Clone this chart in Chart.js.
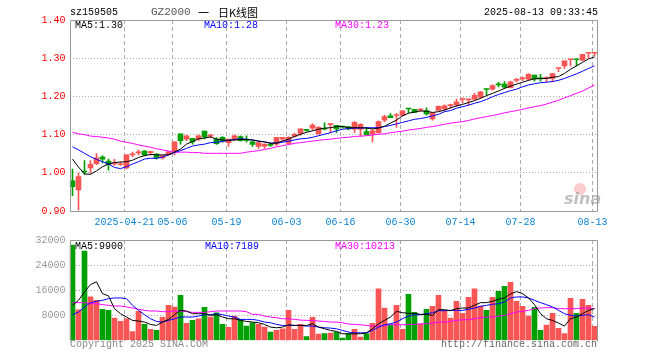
<!DOCTYPE html>
<html>
<head>
<meta charset="utf-8">
<title>GZ2000 日K线图</title>
<script src="https://cdn.jsdelivr.net/npm/chart.js@4/dist/chart.umd.min.js"></script>
<style>
body { margin: 0; background: #fff; }
#wrap { position: relative; width: 660px; height: 360px; overflow: hidden; font-family: "Liberation Mono", "DejaVu Sans Mono", monospace; font-size: 10px; color: #000; }
#wrap canvas { position: absolute; left: 0; }
.t { position: absolute; line-height: 12px; white-space: pre; }
.cjk { font-family: "Noto Sans CJK SC", sans-serif; font-size: 11px; }
</style>
</head>
<body>
<div id="wrap">
    <canvas id="kChart" width="660" height="232" style="top:0"></canvas>
    <canvas id="volChart" width="660" height="130" style="top:230px"></canvas>

    <div class="t" style="left:70px;top:7px;">sz159505</div>
    <div class="t" style="left:151px;top:6px;font-size:11px;color:#555;">GZ2000</div>
    <div class="t cjk" style="left:198px;top:6px;">一</div>
    <div class="t cjk" style="left:218px;top:6px;">日K线图</div>
    <div class="t" style="right:62px;top:7px;">2025-08-13 09:33:45</div>

    <div class="t" style="left:75px;top:20px;">MA5:1.30</div>
    <div class="t" style="left:204px;top:20px;color:#00f;">MA10:1.28</div>
    <div class="t" style="left:335px;top:20px;color:#f0f;">MA30:1.23</div>

    <div class="t" style="left:75px;top:241px;">MA5:9900</div>
    <div class="t" style="left:205px;top:241px;color:#00f;">MA10:7189</div>
    <div class="t" style="left:335px;top:241px;color:#f0f;">MA30:10213</div>

    <div style="position:absolute;left:574px;top:183px;width:12px;height:12px;border-radius:50%;background:rgba(240,110,110,0.35);"></div>
    <div class="t" style="left:564px;top:192px;font:italic bold 16px 'DejaVu Sans', sans-serif;line-height:14px;color:rgba(150,150,150,0.6);">sina</div>

    <div class="t" style="left:70px;top:339px;color:#888;">Copyright 2025 SINA.COM</div>
    <div class="t" style="right:63px;top:339px;color:#666;">http://finance.sina.com.cn</div>
</div>

<script>
/* GZ2000 日K线图 - 159505 */

const dates = [
    '2025-04-08', '2025-04-09', '2025-04-10', '2025-04-11', '2025-04-14', '2025-04-15', '2025-04-16', '2025-04-17', '2025-04-18',
    '2025-04-21', '2025-04-22', '2025-04-23', '2025-04-24', '2025-04-25', '2025-04-28', '2025-04-29', '2025-04-30',
    '2025-05-06', '2025-05-07', '2025-05-08', '2025-05-09', '2025-05-12', '2025-05-13', '2025-05-14', '2025-05-15', '2025-05-16',
    '2025-05-19', '2025-05-20', '2025-05-21', '2025-05-22', '2025-05-23', '2025-05-26', '2025-05-27', '2025-05-28', '2025-05-29', '2025-05-30',
    '2025-06-03', '2025-06-04', '2025-06-05', '2025-06-06', '2025-06-09', '2025-06-10', '2025-06-11', '2025-06-12', '2025-06-13',
    '2025-06-16', '2025-06-17', '2025-06-18', '2025-06-19', '2025-06-20', '2025-06-23', '2025-06-24', '2025-06-25', '2025-06-26', '2025-06-27',
    '2025-06-30', '2025-07-01', '2025-07-02', '2025-07-03', '2025-07-04', '2025-07-07', '2025-07-08', '2025-07-09', '2025-07-10', '2025-07-11',
    '2025-07-14', '2025-07-15', '2025-07-16', '2025-07-17', '2025-07-18', '2025-07-21', '2025-07-22', '2025-07-23', '2025-07-24', '2025-07-25',
    '2025-07-28', '2025-07-29', '2025-07-30', '2025-07-31', '2025-08-01', '2025-08-04', '2025-08-05', '2025-08-06', '2025-08-07', '2025-08-08',
    '2025-08-11', '2025-08-12', '2025-08-13'
];
const tickDates = ['2025-04-21', '2025-05-06', '2025-05-19', '2025-06-03', '2025-06-16', '2025-06-30', '2025-07-14', '2025-07-28', '2025-08-13'];

const opens = [
    0.979, 0.955, 1.004, 1.013, 1.024, 1.041, 1.031, 1.023, 1.021, 1.013,
    1.047, 1.052, 1.057, 1.053, 1.049, 1.039, 1.048, 1.057, 1.102, 1.088,
    1.090, 1.088, 1.109, 1.096, 1.088, 1.093, 1.079, 1.088, 1.095, 1.087,
    1.081, 1.069, 1.070, 1.074, 1.075, 1.088, 1.077, 1.095, 1.103, 1.113,
    1.117, 1.102, 1.116, 1.126, 1.124, 1.121, 1.121, 1.114, 1.114, 1.108,
    1.102, 1.105, 1.138, 1.149, 1.150, 1.150, 1.168, 1.166, 1.164, 1.163,
    1.141, 1.163, 1.167, 1.176, 1.178, 1.192, 1.191, 1.193, 1.198, 1.219,
    1.219, 1.231, 1.232, 1.223, 1.242, 1.246, 1.245, 1.256, 1.247, 1.247,
    1.247, 1.273, 1.280, 1.296, 1.297, 1.295, 1.313, 1.313
];
const highs = [
    1.010, 0.999, 1.032, 1.032, 1.050, 1.045, 1.036, 1.035, 1.029, 1.047,
    1.054, 1.060, 1.058, 1.057, 1.050, 1.046, 1.056, 1.081, 1.102, 1.099,
    1.090, 1.099, 1.109, 1.101, 1.092, 1.095, 1.088, 1.099, 1.097, 1.097,
    1.084, 1.082, 1.076, 1.077, 1.093, 1.093, 1.095, 1.104, 1.115, 1.114,
    1.129, 1.121, 1.131, 1.129, 1.124, 1.122, 1.121, 1.134, 1.129, 1.119,
    1.114, 1.136, 1.151, 1.155, 1.155, 1.162, 1.168, 1.166, 1.168, 1.170,
    1.157, 1.175, 1.178, 1.180, 1.193, 1.196, 1.192, 1.208, 1.213, 1.219,
    1.230, 1.237, 1.239, 1.240, 1.247, 1.251, 1.260, 1.256, 1.258, 1.251,
    1.260, 1.274, 1.293, 1.297, 1.297, 1.310, 1.314, 1.314
];
const lows = [
    0.940, 0.903, 0.996, 0.999, 1.021, 1.026, 1.007, 1.019, 1.019, 1.010,
    1.042, 1.047, 1.044, 1.046, 1.036, 1.036, 1.047, 1.047, 1.075, 1.084,
    1.075, 1.084, 1.089, 1.091, 1.074, 1.080, 1.069, 1.084, 1.083, 1.080,
    1.069, 1.064, 1.064, 1.069, 1.071, 1.083, 1.074, 1.093, 1.098, 1.108,
    1.112, 1.101, 1.112, 1.105, 1.105, 1.117, 1.112, 1.105, 1.096, 1.099,
    1.081, 1.103, 1.133, 1.144, 1.119, 1.150, 1.156, 1.158, 1.161, 1.151,
    1.138, 1.163, 1.163, 1.169, 1.174, 1.182, 1.177, 1.190, 1.195, 1.204,
    1.216, 1.225, 1.221, 1.222, 1.238, 1.241, 1.242, 1.240, 1.240, 1.237,
    1.238, 1.265, 1.273, 1.280, 1.280, 1.293, 1.300, 1.305
];
const closes = [
    0.964, 0.990, 1.002, 1.022, 1.039, 1.036, 1.022, 1.024, 1.022, 1.047,
    1.048, 1.053, 1.047, 1.054, 1.039, 1.045, 1.055, 1.081, 1.084, 1.097,
    1.081, 1.097, 1.094, 1.097, 1.076, 1.083, 1.088, 1.097, 1.084, 1.085,
    1.074, 1.079, 1.075, 1.072, 1.093, 1.093, 1.093, 1.101, 1.115, 1.111,
    1.125, 1.119, 1.114, 1.128, 1.115, 1.120, 1.115, 1.132, 1.127, 1.099,
    1.110, 1.134, 1.147, 1.144, 1.151, 1.162, 1.167, 1.158, 1.165, 1.154,
    1.157, 1.174, 1.175, 1.177, 1.186, 1.193, 1.192, 1.203, 1.212, 1.218,
    1.228, 1.230, 1.224, 1.238, 1.243, 1.247, 1.258, 1.246, 1.246, 1.248,
    1.260, 1.274, 1.293, 1.297, 1.296, 1.310, 1.314, 1.314
];

const ma5 = [
    1.036, 1.015, 0.997, 0.996, 1.005, 1.016, 1.023, 1.027, 1.028, 1.029,
    1.033, 1.040, 1.045, 1.048, 1.047, 1.047, 1.047, 1.055, 1.062, 1.075,
    1.082, 1.089, 1.091, 1.094, 1.088, 1.086, 1.085, 1.086, 1.087, 1.087,
    1.086, 1.083, 1.081, 1.077, 1.078, 1.083, 1.088, 1.095, 1.101, 1.106,
    1.110, 1.114, 1.117, 1.118, 1.121, 1.121, 1.118, 1.118, 1.118, 1.117,
    1.115, 1.117, 1.122, 1.130, 1.138, 1.149, 1.156, 1.159, 1.162, 1.161,
    1.158, 1.160, 1.164, 1.170, 1.175, 1.179, 1.184, 1.189, 1.195, 1.202,
    1.208, 1.214, 1.221, 1.227, 1.232, 1.237, 1.242, 1.246, 1.247, 1.247,
    1.250, 1.252, 1.260, 1.271, 1.280, 1.289, 1.298, 1.303
];
const ma10 = [
    1.068, 1.060, 1.051, 1.042, 1.035, 1.029, 1.023, 1.014, 1.011, 1.016,
    1.023, 1.029, 1.036, 1.038, 1.038, 1.041, 1.047, 1.053, 1.058, 1.064,
    1.070, 1.073, 1.075, 1.079, 1.080, 1.082, 1.085, 1.087, 1.089, 1.088,
    1.086, 1.083, 1.081, 1.078, 1.078, 1.080, 1.083, 1.086, 1.089, 1.090,
    1.093, 1.097, 1.101, 1.105, 1.110, 1.114, 1.116, 1.117, 1.117, 1.118,
    1.118, 1.118, 1.121, 1.124, 1.128, 1.132, 1.136, 1.140, 1.142, 1.145,
    1.149, 1.153, 1.160, 1.163, 1.169, 1.173, 1.177, 1.182, 1.186, 1.192,
    1.199, 1.205, 1.210, 1.215, 1.219, 1.225, 1.230, 1.233, 1.236, 1.237,
    1.239, 1.242, 1.247, 1.253, 1.259, 1.266, 1.273, 1.280
];
const ma30 = [
    1.106, 1.102, 1.100, 1.096, 1.095, 1.093, 1.091, 1.088, 1.083, 1.080,
    1.077, 1.073, 1.070, 1.067, 1.063, 1.060, 1.057, 1.054, 1.054, 1.054,
    1.053, 1.053, 1.051, 1.051, 1.051, 1.051, 1.051, 1.051, 1.051, 1.054,
    1.056, 1.058, 1.061, 1.064, 1.068, 1.071, 1.074, 1.077, 1.079, 1.081,
    1.083, 1.085, 1.087, 1.088, 1.090, 1.092, 1.093, 1.095, 1.096, 1.097,
    1.099, 1.101, 1.102, 1.105, 1.107, 1.109, 1.112, 1.114, 1.116, 1.119,
    1.121, 1.124, 1.127, 1.130, 1.132, 1.134, 1.137, 1.141, 1.144, 1.147,
    1.150, 1.153, 1.157, 1.160, 1.163, 1.166, 1.170, 1.173, 1.176, 1.180,
    1.185, 1.190, 1.196, 1.202, 1.208, 1.214, 1.222, 1.230
];

const volumes = [
    30400, 9800, 28480, 13870, 12800, 9920, 9600, 7150, 6080, 6930,
    2880, 9280, 5120, 3520, 3200, 7360, 11200, 10670, 14400, 5440,
    6400, 6930, 10560, 7470, 8850, 5120, 4160, 7790, 6720, 4590,
    5650, 5120, 4270, 2670, 3200, 3730, 9600, 3520, 5120, 1280,
    7360, 2030, 2240, 2350, 2670, 750, 2240, 3520, 1070, 2240,
    5440, 16430, 10350, 5010, 11200, 3520, 14720, 8960, 5120, 9920,
    10880, 14400, 9600, 7150, 12480, 8640, 13760, 16430, 10990, 9600,
    13760, 15680, 17280, 18560, 12480, 10880, 7790, 10560, 3200, 4910,
    8640, 3840, 2240, 13440, 8640, 13120, 11200, 4480
];
const volMa5 = [
    11200, 12800, 15470, 17810, 18670, 14930, 14190, 10130, 8530, 7470,
    6400, 6190, 5870, 5120, 4800, 5870, 6720, 8210, 9600, 9390,
    8530, 8530, 8530, 8000, 8210, 7470, 6930, 6930, 6400, 6080,
    5870, 5650, 5120, 4270, 4050, 4270, 5010, 4800, 4800, 4800,
    5330, 4270, 3730, 3200, 2880, 2130, 2130, 2130, 2130, 2450,
    3730, 5330, 6400, 7470, 9280, 8850, 8640, 8640, 8320, 8320,
    8000, 9810, 9810, 9490, 10130, 10350, 10350, 11200, 12050, 12050,
    12480, 13120, 13550, 14830, 15570, 14930, 13550, 11410, 8530, 6930,
    6400, 5550, 4590, 6930, 7470, 8530, 9600, 10130
];
const volMa10 = [
    8210, 9070, 10670, 12050, 12480, 12800, 13330, 13550, 13550, 13330,
    11200, 9600, 8210, 6930, 6080, 5870, 6400, 6930, 7470, 7470,
    7470, 7790, 8210, 8210, 8530, 8210, 7790, 7470, 6720, 6720,
    6720, 6400, 5870, 5650, 5120, 4800, 4800, 4800, 4800, 4590,
    4590, 4270, 4050, 3950, 3730, 3200, 2670, 2450, 2450, 2450,
    3200, 4270, 5010, 5330, 5870, 6930, 7790, 8210, 8210, 8530,
    8850, 9490, 9490, 9600, 9600, 9600, 9920, 10350, 10880, 11200,
    11520, 11730, 12270, 13550, 13870, 13870, 13550, 12800, 12050, 11410,
    10670, 9600, 8530, 8000, 7790, 8000, 8210, 7470
];
const volMa30 = [
    12050, 12050, 12050, 11730, 11730, 11410, 11200, 10990, 10990, 10670,
    10350, 9920, 9600, 9390, 9390, 9170, 9170, 9390, 9390, 9170,
    8960, 8960, 8960, 9170, 9390, 9390, 9390, 9390, 9390, 9170,
    8320, 8320, 7790, 7470, 7250, 6930, 6930, 6720, 6510, 6400,
    6400, 6190, 6080, 5870, 5870, 5650, 5230, 5120, 5010, 4800,
    4590, 4590, 4800, 5010, 5010, 5010, 5120, 5120, 5330, 5330,
    5550, 5870, 5870, 6080, 6400, 6610, 6610, 6930, 7250, 7470,
    7470, 7790, 8000, 8530, 9070, 9280, 9600, 10130, 10350, 10450,
    10450, 10130, 10130, 10130, 10130, 10350, 10350, 10130
];

const priceTicks = [0.90, 1.00, 1.10, 1.20, 1.30, 1.40];
const volTicks = [0, 8000, 16000, 24000, 32000];

const UP = '#fa5555';
const DOWN = '#00a000';
const GRID = '#aaa';
const MONO = '"Liberation Mono", "DejaVu Sans Mono", monospace';
const GRID_SHIFT = -1 / 3;   // date lines sit 2px left of the candle centre

Chart.defaults.font.family = MONO;
Chart.defaults.font.size = 10;

const candleColors = opens.map((o, i) => closes[i] >= o ? UP : DOWN);
const xy = arr => arr.map((v, i) => ({ x: i, y: v }));

// frame round the plot area
const framePlugin = {
    id: 'frame',
    afterDraw(chart, args, opts) {
        const { ctx, chartArea: a } = chart;
        const l = Math.round(a.left) + 0.5, r = Math.round(a.right) - 0.5;
        const t = Math.round(a.top) + 0.5, b = Math.round(a.bottom) + 0.5;
        ctx.save();
        ctx.strokeStyle = '#999';
        ctx.lineWidth = 1;
        ctx.beginPath();
        if (opts.bottom) { ctx.moveTo(l, b); ctx.lineTo(l, t); ctx.lineTo(r, t); ctx.lineTo(r, b); ctx.closePath(); }
        else { ctx.moveTo(l, b); ctx.lineTo(l, t); ctx.lineTo(r, t); ctx.lineTo(r, b); }
        ctx.stroke();
        ctx.restore();
    }
};

function xScale(showLabels, height) {
    return {
        type: 'linear',
        min: -0.5,
        max: dates.length - 0.5,
        offset: false,
        afterBuildTicks: s => { s.ticks = tickDates.map(d => ({ value: dates.indexOf(d) + GRID_SHIFT })); },
        afterFit: s => { s.height = height; },
        ticks: {
            display: showLabels,
            autoSkip: false,
            maxRotation: 0,
            padding: 5,
            color: '#0a84d2',
            callback: (v, idx) => idx === 0 ? tickDates[idx] : tickDates[idx].slice(5)
        },
        grid: { offset: false, color: GRID, drawTicks: false },
        border: { display: false, dash: [4, 3] }
    };
}

function yScale(min, max, values, color, fmt) {
    return {
        min: min,
        max: max,
        afterBuildTicks: s => { s.ticks = values.map(v => ({ value: v })); },
        afterFit: s => { s.width = 69.5; },
        ticks: { color: color, padding: 4, callback: fmt },
        grid: {
            drawTicks: false,
            color: c => (c.tick && (c.tick.value === min || c.tick.value === max)) ? 'rgba(0,0,0,0)' : GRID
        },
        border: { display: false, dash: [1, 2] }
    };
}

function maLine(data, color) {
    return { type: 'line', data: xy(data), borderColor: color, borderWidth: 1, pointRadius: 0, tension: 0, order: 0 };
}

function initKChart() {
    new Chart(document.getElementById('kChart'), {
        type: 'bar',
        data: {
            datasets: [
                maLine(ma5, '#000'),
                maLine(ma10, '#00f'),
                maLine(ma30, '#f0f'),
                {
                    data: opens.map((o, i) => ({ x: i, y: [o, closes[i]] })),
                    backgroundColor: candleColors,
                    barThickness: 5,
                    minBarLength: 1,
                    grouped: false,
                    order: 1
                },
                {
                    data: lows.map((l, i) => ({ x: i, y: [l, highs[i]] })),
                    backgroundColor: candleColors,
                    barThickness: 1,
                    grouped: false,
                    order: 2
                }
            ]
        },
        options: {
            responsive: false,
            animation: false,
            layout: { padding: { left: 0, right: 62.5, top: 20, bottom: 0 } },
            plugins: { legend: { display: false }, tooltip: { enabled: false }, frame: { bottom: true } },
            scales: {
                x: xScale(true, 21),
                y: yScale(0.9, 1.4, priceTicks, '#f00', v => v.toFixed(2))
            }
        },
        plugins: [framePlugin]
    });
}

function initVolChart() {
    new Chart(document.getElementById('volChart'), {
        type: 'bar',
        data: {
            datasets: [
                maLine(volMa5, '#000'),
                maLine(volMa10, '#00f'),
                maLine(volMa30, '#f0f'),
                {
                    data: xy(volumes),
                    backgroundColor: candleColors,
                    barThickness: 5,
                    grouped: false,
                    order: 1
                }
            ]
        },
        options: {
            responsive: false,
            animation: false,
            layout: { padding: { left: 0, right: 62.5, top: 10, bottom: 0 } },
            plugins: { legend: { display: false }, tooltip: { enabled: false }, frame: { bottom: false } },
            scales: {
                x: xScale(false, 19.5),
                y: yScale(0, 32000, volTicks, '#999', v => v === 0 ? '' : String(v))
            }
        },
        plugins: [framePlugin]
    });
}

document.addEventListener('DOMContentLoaded', () => {
    initKChart();
    initVolChart();
});
</script>
</body>
</html>
